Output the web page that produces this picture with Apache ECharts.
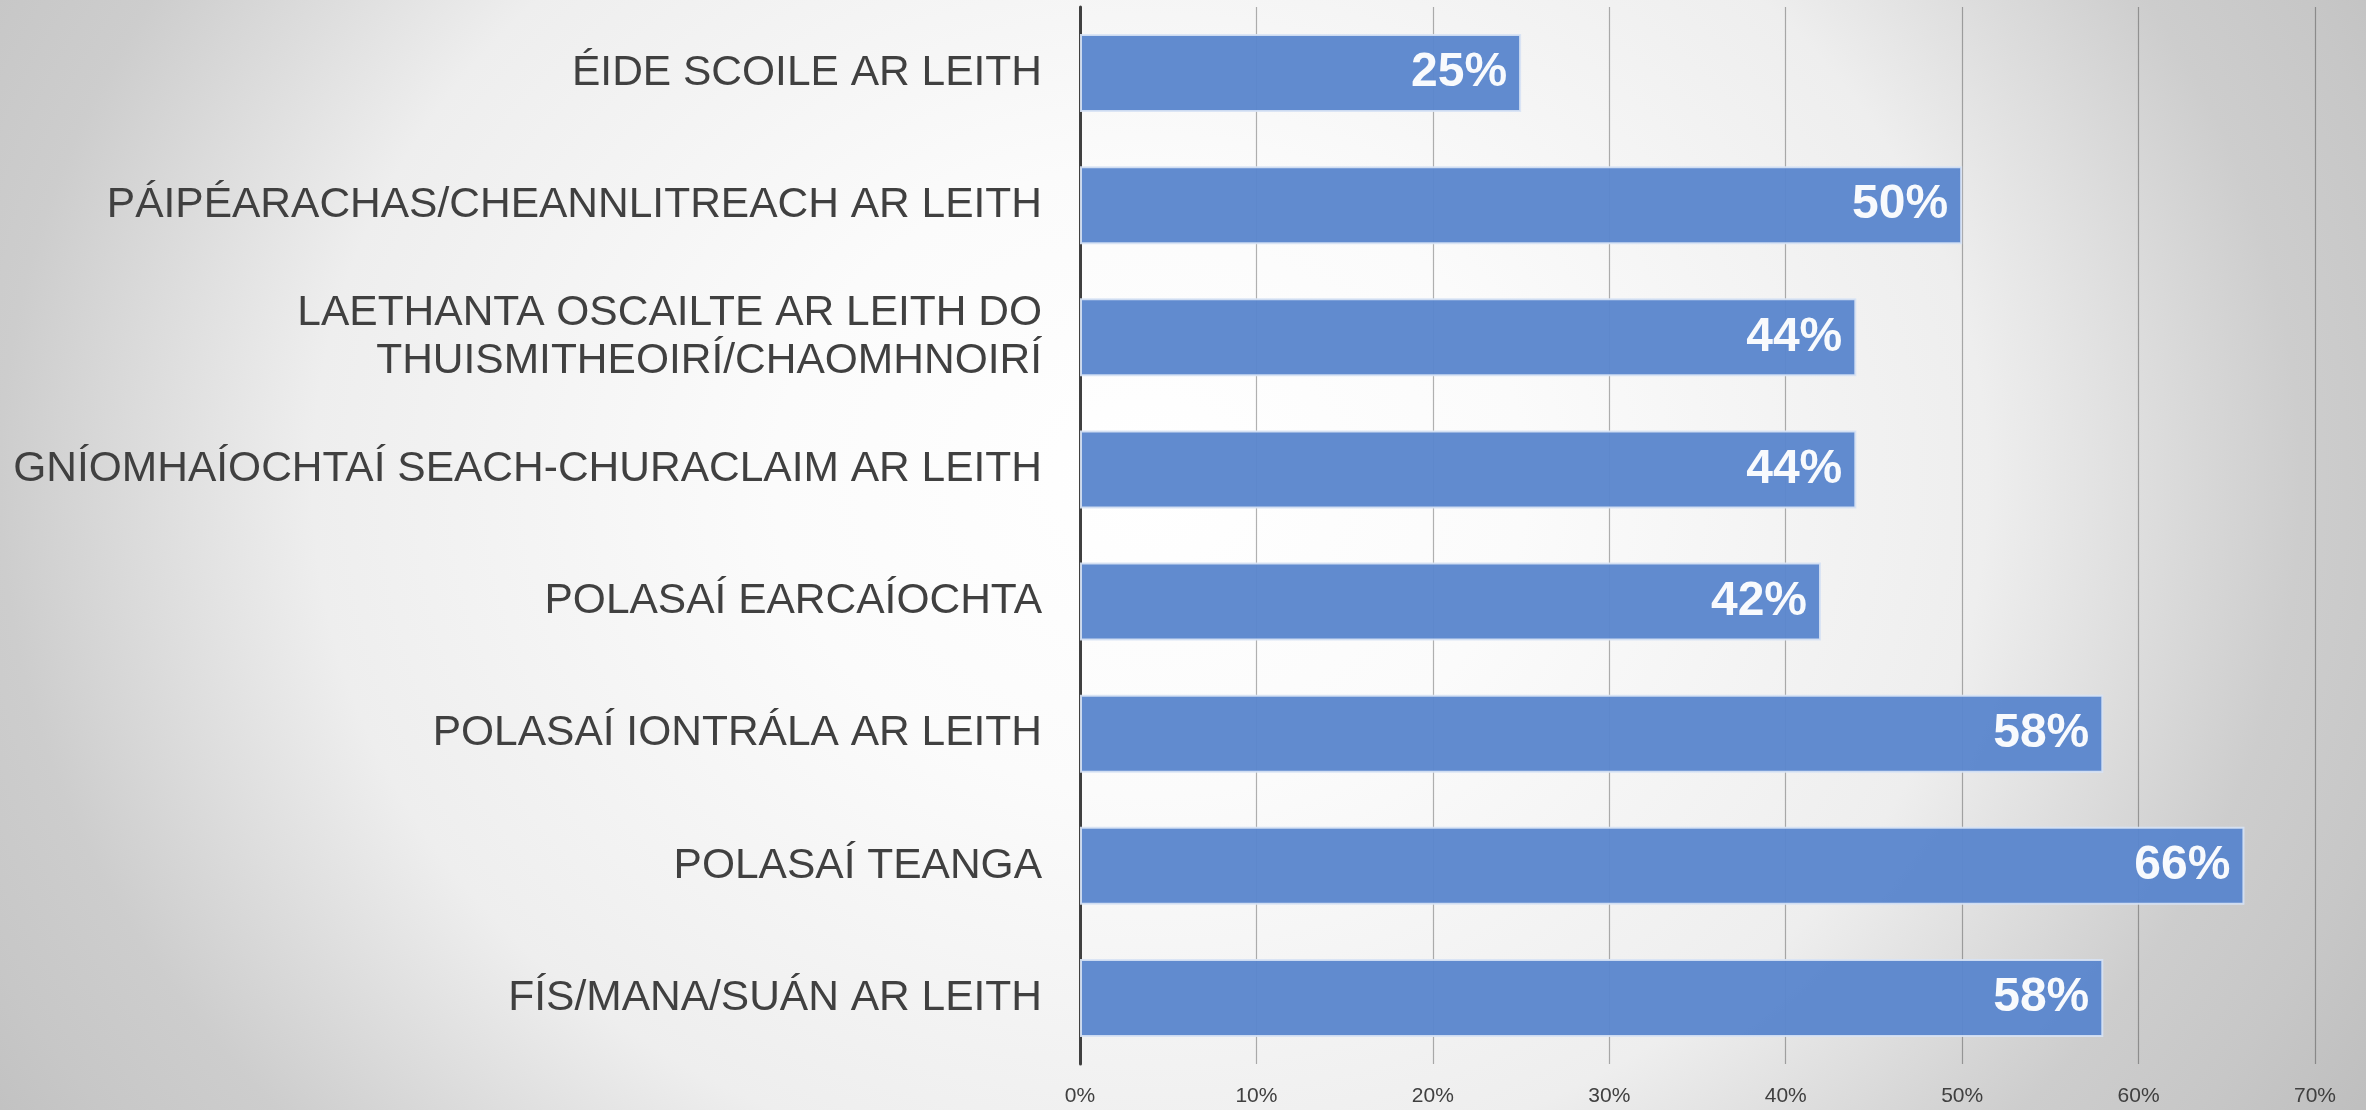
<!DOCTYPE html>
<html>
<head>
<meta charset="utf-8">
<script src="https://cdn.jsdelivr.net/npm/echarts@6/dist/echarts.min.js"></script>
<style>
  html, body {
    margin: 0;
    padding: 0;
    width: 2366px;
    height: 1110px;
    overflow: hidden;
  }
  body {
    background: radial-gradient(ellipse 1250px 1050px at 1150px 480px,
      #ffffff 0%, #fbfbfb 30%, #eeeeee 67%, #cdcdcd 92%, #c7c7c7 103%, #bebebe 115%);
  }
  #chart {
    width: 2366px;
    height: 1110px;
  }
</style>
</head>
<body>
<div id="chart"></div>
<script>
const categories = [
  'ÉIDE SCOILE AR LEITH',
  'PÁIPÉARACHAS/CHEANNLITREACH AR LEITH',
  'LAETHANTA OSCAILTE AR LEITH DO\nTHUISMITHEOIRÍ/CHAOMHNOIRÍ',
  'GNÍOMHAÍOCHTAÍ SEACH-CHURACLAIM AR LEITH',
  'POLASAÍ EARCAÍOCHTA',
  'POLASAÍ IONTRÁLA AR LEITH',
  'POLASAÍ TEANGA',
  'FÍS/MANA/SUÁN AR LEITH'
]
const percentValues = [25, 50, 44, 44, 42, 58, 66, 58]
const tickLabels = ['0%', '10%', '20%', '30%', '40%', '50%', '60%', '70%']

const chart = echarts.init(document.getElementById('chart'))

const labelFont = '"Liberation Sans", Arial, sans-serif'

const option = {
  backgroundColor: 'transparent',
  animation: false,
  grid: {
    left: 1080,
    right: 51,
    top: 7,
    bottom: 46
  },
  xAxis: {
    type: 'value',
    min: 0,
    max: 70,
    interval: 10,
    axisLine: { show: false },
    axisTick: { show: false },
    splitLine: {
      show: true,
      lineStyle: { color: 'rgba(0,0,0,0.3)', width: 1.2 }
    },
    axisLabel: {
      margin: 22,
      fontSize: 21,
      color: '#404040',
      fontFamily: labelFont,
      formatter: (v) => tickLabels[Math.round(v / 10)]
    }
  },
  yAxis: {
    type: 'category',
    inverse: true,
    data: categories,
    axisLine: {
      show: true,
      lineStyle: { color: '#404040', width: 3 }
    },
    axisTick: { show: false },
    axisLabel: {
      margin: 38,
      fontSize: 42.5,
      lineHeight: 48,
      color: '#404040',
      fontFamily: labelFont,
      align: 'right'
    }
  },
  series: [
    {
      type: 'bar',
      data: percentValues,
      barCategoryGap: '41%',
      itemStyle: {
        color: '#5b86cd',
        opacity: 0.96,
        borderColor: 'rgba(215,226,244,0.95)',
        borderWidth: 2
      },
      label: {
        show: true,
        position: 'insideRight',
        distance: 14,
        color: '#ffffff',
        fontSize: 48,
        fontWeight: 'bold',
        fontFamily: labelFont,
        formatter: (p) => p.value + '%'
      }
    }
  ]
}

chart.setOption(option)
</script>
</body>
</html>
